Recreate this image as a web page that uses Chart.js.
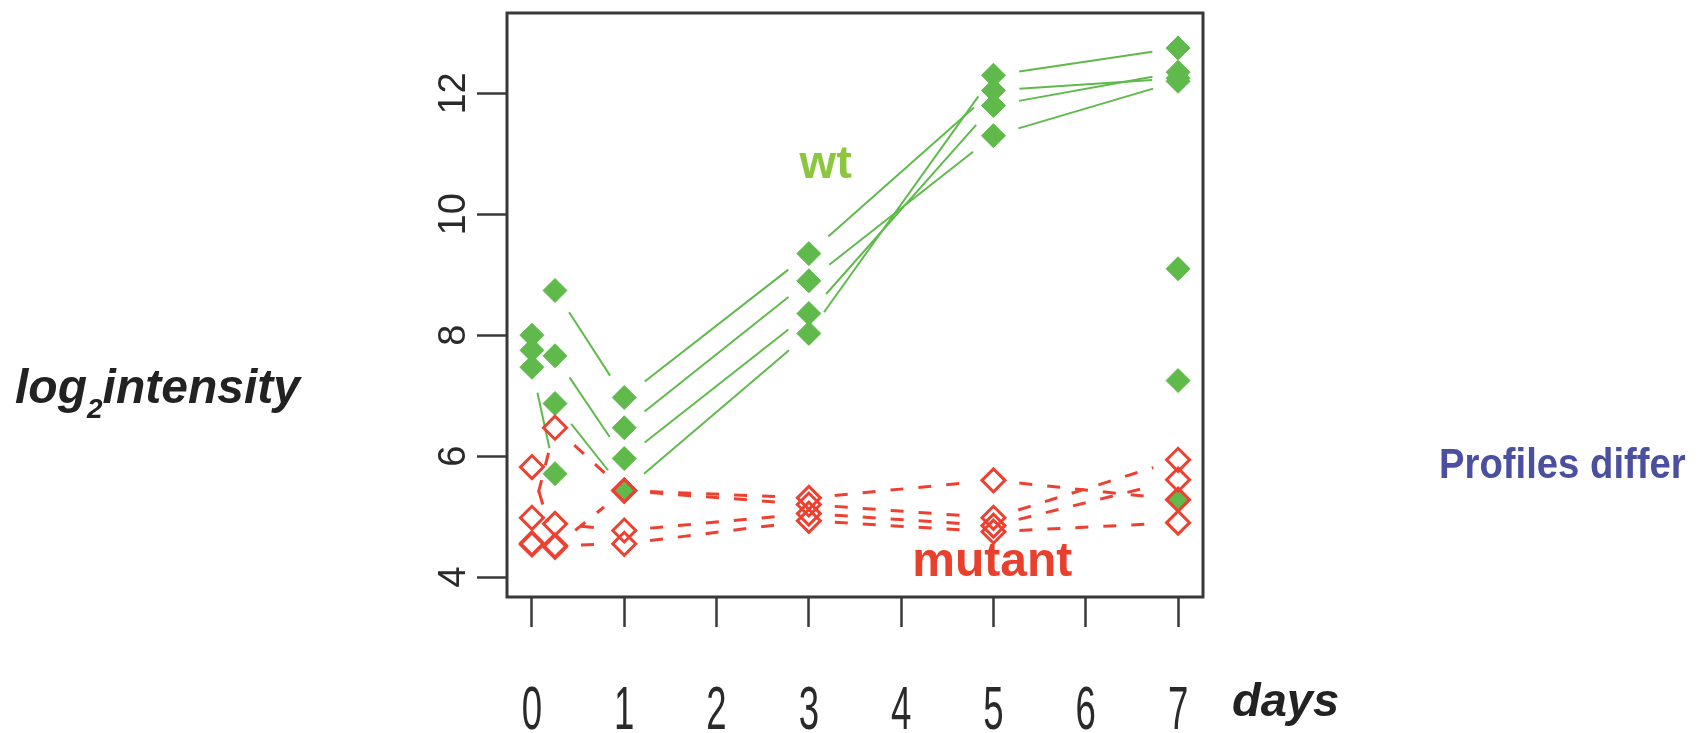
<!DOCTYPE html>
<html>
<head>
<meta charset="utf-8">
<script src="https://cdn.jsdelivr.net/npm/chart.js@4.4.1/dist/chart.umd.min.js"></script>
<style>
  html, body { margin: 0; padding: 0; background: #fff; }
  #wrap { width: 1705px; height: 733px; }
</style>
</head>
<body>
<div id="wrap"><canvas id="chart" width="1705" height="733"></canvas></div>
<script>
// time points (days) and tick labels
const days = [0, 0.25, 1, 3, 5, 7];
const xTickValues = [0, 1, 2, 3, 4, 5, 6, 7];
const xTickLabels = ['0', '1', '2', '3', '4', '5', '6', '7'];
const yTickValues = [4, 6, 8, 10, 12];
const yTickLabels = ['4', '6', '8', '10', '12'];

// wild type profiles (log2 intensity), null = no value
const wtA = [8.0, 8.74, 6.97, 9.35, 12.05, 12.25];
const wtB = [7.75, 7.66, 5.96, 8.36, 11.8, 12.35];
const wtC = [null, 6.87, 5.43, 8.03, 12.3, 12.75];
const wtD = [7.47, 5.71, null, null, null, 9.1];
const wtE = [null, null, 6.47, 8.9, 11.3, 12.2];
const wtF = [null, null, null, null, null, 7.25];
const wtG = [null, null, null, null, null, 5.29];

// mutant profiles
const mutA = [4.98, 6.47, 5.43, 5.31, 5.6, 5.28];
const mutB = [5.82, 4.5, 5.43, 5.2, 4.98, 5.94];
const mutC = [4.54, 4.88, 4.77, 5.05, 4.85, 5.61];
const mutD = [4.56, 4.52, 4.55, 4.93, 4.75, 4.9];

const green = '#5fba4b';
const red = '#ee4030';
const gap = 26;

function toPoints(values) {
    return values.map((v, i) => ({ x: days[i], y: v }));
}

// R type="b": leave a gap around each point, optionally dashed in between
function gapDash(ctx, dash) {
    const len = Math.hypot(ctx.p1.x - ctx.p0.x, ctx.p1.y - ctx.p0.y);
    const inner = len - 2 * gap;
    if (inner <= 0) return [0, len + 1];
    if (!dash) return [0, gap, inner, gap + 1];
    const pattern = [0, gap];
    let left = inner;
    while (left > 0) {
        const d = Math.min(dash[0], left);
        left -= d;
        const g = Math.min(dash[1], Math.max(left, 0));
        left -= g;
        pattern.push(d, g);
    }
    pattern[pattern.length - 1] += gap + 1;
    return pattern;
}

function mutantSet(values) {
    return {
        data: toPoints(values),
        borderColor: red,
        borderWidth: 3,
        segment: { borderDash: ctx => gapDash(ctx, [13, 15]) },
        pointStyle: 'rectRot',
        pointRadius: 11.5,
        pointBorderWidth: 3,
        pointBorderColor: red,
        pointBackgroundColor: 'rgba(255,255,255,0)',
        spanGaps: false,
        tension: 0
    };
}

function wtSet(values) {
    return {
        data: toPoints(values),
        borderColor: green,
        borderWidth: 2,
        segment: { borderDash: ctx => gapDash(ctx, null) },
        pointStyle: 'rectRot',
        pointRadius: 12,
        pointBorderWidth: 1,
        pointBorderColor: green,
        pointBackgroundColor: green,
        spanGaps: false,
        tension: 0
    };
}

const decorations = {
    id: 'decorations',
    afterDraw(chart) {
        const ctx = chart.ctx;
        const area = chart.chartArea;
        const xs = chart.scales.x;
        const ys = chart.scales.y;
        ctx.save();

        // plot box
        ctx.strokeStyle = '#383838';
        ctx.lineWidth = 3;
        ctx.strokeRect(area.left, area.top, area.right - area.left, area.bottom - area.top);

        // x tick labels (narrow, tall)
        ctx.fillStyle = '#2a2a2a';
        ctx.font = '61px "Liberation Sans", Arial, sans-serif';
        ctx.textAlign = 'center';
        ctx.textBaseline = 'alphabetic';
        xs.ticks.forEach((t, i) => {
            ctx.save();
            ctx.translate(xs.getPixelForValue(t.value), 729);
            ctx.scale(0.6, 1);
            ctx.fillText(xTickLabels[i], 0, 0);
            ctx.restore();
        });

        // y tick labels (rotated)
        ctx.font = '38px "Liberation Sans", Arial, sans-serif';
        ys.ticks.forEach((t, i) => {
            ctx.save();
            ctx.translate(465, ys.getPixelForValue(t.value));
            ctx.rotate(-Math.PI / 2);
            ctx.fillText(yTickLabels[i], 0, 0);
            ctx.restore();
        });

        // axis titles
        ctx.textAlign = 'left';
        ctx.fillStyle = '#222';
        ctx.font = 'italic bold 48px "Liberation Sans", Arial, sans-serif';
        ctx.fillText('log', 15, 403);
        let x = 15 + ctx.measureText('log').width;
        ctx.font = 'italic bold 28px "Liberation Sans", Arial, sans-serif';
        ctx.fillText('2', x, 418);
        x += ctx.measureText('2').width;
        ctx.font = 'italic bold 48px "Liberation Sans", Arial, sans-serif';
        ctx.fillText('intensity', x, 403);

        ctx.font = 'italic bold 47px "Liberation Sans", Arial, sans-serif';
        ctx.fillText('days', 1232, 716);

        ctx.fillStyle = '#4a4f9f';
        ctx.font = 'bold 43px "Liberation Sans", Arial, sans-serif';
        ctx.save();
        ctx.translate(1439, 478);
        ctx.scale(0.89, 1);
        ctx.fillText('Profiles differ', 0, 0);
        ctx.restore();

        // group labels inside the plot
        ctx.font = 'bold 47px "Liberation Sans", Arial, sans-serif';
        ctx.fillStyle = '#8cc63f';
        ctx.fillText('wt', xs.getPixelForValue(2.9), ys.getPixelForValue(10.6));
        ctx.font = 'bold 48px "Liberation Sans", Arial, sans-serif';
        ctx.fillStyle = '#e8402d';
        ctx.fillText('mutant', xs.getPixelForValue(4.12), ys.getPixelForValue(4.02));

        ctx.restore();
    }
};

new Chart(document.getElementById('chart'), {
    type: 'line',
    data: {
        datasets: [
            mutantSet(mutA), mutantSet(mutB), mutantSet(mutC), mutantSet(mutD),
            wtSet(wtA), wtSet(wtB), wtSet(wtC), wtSet(wtD), wtSet(wtE), wtSet(wtF), wtSet(wtG)
        ]
    },
    options: {
        responsive: false,
        animation: false,
        events: [],
        layout: {
            autoPadding: false,
            padding: { left: 477, right: 502, top: 13, bottom: 106 }
        },
        plugins: {
            legend: { display: false },
            tooltip: { enabled: false }
        },
        scales: {
            x: {
                type: 'linear',
                min: -0.27,
                max: 7.27,
                afterBuildTicks: (scale) => { scale.ticks = xTickValues.map(v => ({ value: v })); },
                ticks: { display: false },
                border: { display: false },
                grid: { drawOnChartArea: false, drawTicks: true, tickLength: 30, tickColor: '#383838', tickWidth: 2.5 }
            },
            y: {
                type: 'linear',
                min: 3.67,
                max: 13.33,
                afterBuildTicks: (scale) => { scale.ticks = yTickValues.map(v => ({ value: v })); },
                ticks: { display: false },
                border: { display: false },
                grid: { drawOnChartArea: false, drawTicks: true, tickLength: 30, tickColor: '#383838', tickWidth: 2.5 }
            }
        }
    },
    plugins: [decorations]
});
</script>
</body>
</html>
